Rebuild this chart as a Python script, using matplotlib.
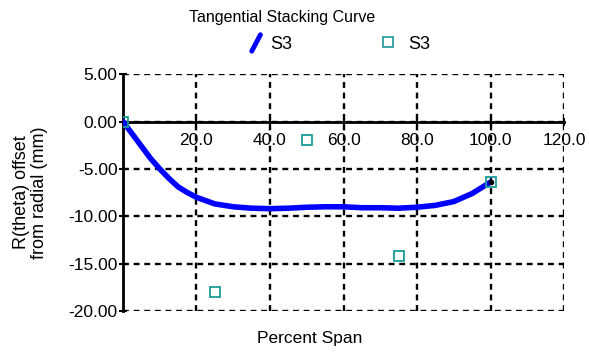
import matplotlib
matplotlib.use("Agg")
import matplotlib.pyplot as plt
from matplotlib.lines import Line2D
from matplotlib.legend_handler import HandlerBase

plt.rcParams['font.family'] = ['Liberation Sans', 'DejaVu Sans']

# Curve data (Percent Span vs offset)
curve_x = [0, 2.5, 5, 7.5, 10, 12.5, 15, 17.5, 20, 25, 30, 35, 40, 45, 50, 55, 60, 65, 70, 75, 80, 85, 90, 95, 100]
curve_y = [0, -1.3, -2.6, -3.9, -5.0, -6.0, -6.9, -7.5, -8.0, -8.7, -9.0, -9.15, -9.2, -9.15, -9.05, -9.0, -9.0, -9.1, -9.1, -9.15, -9.05, -8.85, -8.45, -7.6, -6.4]

# Control points
pts_x = [0, 25, 50, 75, 100]
pts_y = [0, -18, -2, -14.2, -6.4]

x_ticks = [20, 40, 60, 80, 100, 120]
y_ticks = [5, 0, -5, -10, -15, -20]

fig = plt.figure(figsize=(5.89, 3.53), dpi=100)
ax = fig.add_axes([0.2088, 0.119, 0.7488, 0.671])

ax.plot(curve_x, curve_y, color='#0000ff', lw=4, solid_capstyle='round', zorder=3)
ax.plot([curve_x[-1]], [curve_y[-1]], 'o', color='black', ms=3, zorder=5)
ax.plot(pts_x, pts_y, 's', mfc='none', mec='#1a9a9a', ms=7.5, mew=1.3, ls='none', zorder=4)

ax.set_xlim(0, 120)
ax.set_ylim(-20, 5)
ax.set_xticks(x_ticks)
ax.set_xticklabels([f"{v:.1f}" for v in x_ticks])
ax.set_yticks(y_ticks)
ax.set_yticklabels([f"{v:.2f}" for v in y_ticks])

ax.spines['left'].set_position(('data', 0))
ax.spines['bottom'].set_position(('data', 0))
ax.spines['left'].set_linewidth(2)
ax.spines['bottom'].set_linewidth(2)
ax.spines['top'].set_visible(False)
ax.spines['right'].set_visible(False)

ax.grid(True, color='black', ls=(0, (2.5, 2)), lw=1.7)
ax.tick_params(axis='both', labelsize=12.5, direction='inout', length=6, width=1.5, color='black')
ax.tick_params(axis='x', pad=5)
ax.tick_params(axis='y', pad=1)

ax.set_ylabel("R(theta) offset\nfrom radial (mm)", fontsize=13, linespacing=1.1)
ax.yaxis.set_label_coords(-0.17, 0.5)
fig.text(0.525, 0.02, "Percent Span", ha='center', va='bottom', fontsize=12.5)
fig.text(0.479, 0.93, "Tangential Stacking Curve", ha='center', va='bottom', fontsize=11.5)


class SlantHandler(HandlerBase):
    def create_artists(self, legend, orig_handle, xdescent, ydescent, width, height, fontsize, trans):
        l = Line2D([xdescent + width * 0.55, xdescent + width * 0.85],
                   [ydescent - height * 0.2, ydescent + height * 1.1],
                   color='#0000ff', lw=3.5, solid_capstyle='round', transform=trans)
        return [l]


h1 = Line2D([], [], color='#0000ff', lw=3)
h2 = Line2D([], [], marker='s', mfc='none', mec='#1a9a9a', ms=7, mew=1.2, ls='none')
fig.legend([h1, h2], ['S3', 'S3'], loc='center', bbox_to_anchor=(0.565, 0.875), ncol=2,
           frameon=False, fontsize=13, columnspacing=4.5, handlelength=1.6, handletextpad=0.3,
           handler_map={h1: SlantHandler()})

fig.savefig("out.png", dpi=100)
